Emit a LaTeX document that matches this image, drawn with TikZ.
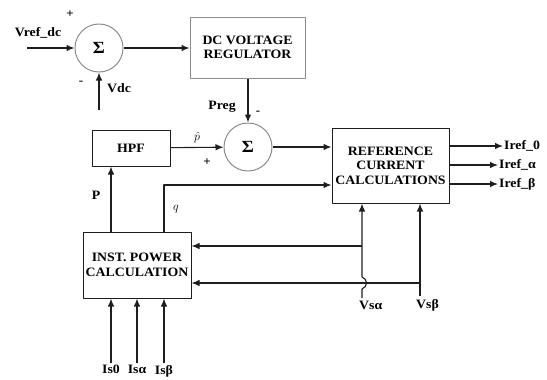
\documentclass[tikz,border=0pt]{standalone}
\usepackage{fontspec}
\setmainfont{Liberation Serif}[FakeStretch=1.08]
\usetikzlibrary{arrows.meta,positioning}
\definecolor{blockgray}{HTML}{8C8C8C}
\definecolor{wireblack}{HTML}{1E1E1E}

\begin{document}
\begin{tikzpicture}[
  x=1pt,
  y=-1pt,
  line join=round,
  font=\bfseries\fontsize{12.8}{14.5}\selectfont,
  block/.style={draw=#1,line width=1pt,fill=white,align=center,inner sep=0pt},
  sumnode/.style={circle,draw=blockgray,line width=1pt,minimum size=48pt,inner sep=0pt,font=\bfseries\fontsize{17}{18}\selectfont},
  wire/.style={draw=wireblack,line width=1.1pt},
  sig/.style={wire,-{Latex[length=8pt,width=6.5pt]}},
  lbl/.style={inner sep=1pt},
  sign/.style={inner sep=0pt,font=\bfseries\fontsize{12}{12}\selectfont}
]
  \useasboundingbox (0,0) rectangle (547,380);

  % Summing junctions and blocks.
  \node[sumnode] (sumdc) at (99,48) {Σ};
  \node[sumnode] (sump) at (248,147) {Σ};
  \node[block=blockgray,minimum width=115pt,minimum height=61pt] (dcreg) at (247.5,47.5) {DC VOLTAGE\\REGULATOR};
  \node[block=wireblack,minimum width=78pt,minimum height=36pt] (hpf) at (131,148) {HPF};
  \node[block=wireblack,minimum width=117pt,minimum height=75pt] (refcalc) at (390.5,165.5) {REFERENCE\\CURRENT\\CALCULATIONS};
  \node[block=wireblack,minimum width=108pt,minimum height=66pt] (inst) at (137,265) {INST. POWER\\CALCULATION};

  % Free ends of the signal lines.
  \coordinate (vrefin) at (27,48);
  \coordinate (vdcin) at (99,110);
  \coordinate (ptap) at (111,200);
  \coordinate (qtop) at (164,185);
  \coordinate (vsa) at (362,298);
  \coordinate (vsatap) at (362,246);
  \coordinate (hoplo) at (362,289);
  \coordinate (hophi) at (362,277);
  \coordinate (vsb) at (420,296);
  \coordinate (vsbtap) at (420,283);
  \coordinate (is0) at (111,363);
  \coordinate (isa) at (137,363);
  \coordinate (isb) at (164,363);

  % DC voltage loop.
  \draw[sig] (vrefin) -- (sumdc);
  \draw[sig] (vdcin) -- (sumdc);
  \draw[sig] (sumdc) -- (dcreg.west |- sumdc);
  \draw[sig] (dcreg.south -| sump) -- (sump);

  % Power path into the reference calculation.
  \draw[sig] (hpf) -- (sump);
  \draw[sig] (sump) -- (refcalc.west |- sump);
  \draw[sig] (inst.north -| ptap) -- (hpf.south -| ptap);
  \draw[sig] (inst.north -| qtop) -- (qtop) -- (refcalc.west |- qtop);

  % Supply voltages, with a hop where the lines cross.
  \draw[sig] (vsa) -- (hoplo) .. controls (368,287) and (368,279) .. (hophi) -- (refcalc.south -| vsa);
  \draw[sig] (vsatap) -- (inst.east |- vsatap);
  \draw[sig] (vsb) -- (refcalc.south -| vsb);
  \draw[sig] (vsbtap) -- (inst.east |- vsbtap);

  % Load currents.
  \foreach \p in {is0,isa,isb} {
    \draw[sig] (\p) -- (inst.south -| \p);
  }

  % Outputs.
  \node[lbl,anchor=west] (iref0) at (503,146) {Iref\_0};
  \node[lbl,anchor=west] (irefa) at (498,165) {Iref\_α};
  \node[lbl,anchor=west] (irefb) at (498,184) {Iref\_β};
  \foreach \p in {iref0,irefa,irefb} {
    \draw[sig] (refcalc.east |- \p) -- (\p);
  }

  % Signal labels.
  \node[lbl] (vreflbl) at (38,33) {Vref\_dc};
  \node[lbl] (vdclbl) at (119,88) {Vdc};
  \node[sign] (plusdc) at (70,14) {+};
  \node[sign] (minusdc) at (81,83) {-};
  \node[lbl] (preglbl) at (222,107) {Preg};
  \node[sign] (minusp) at (258,113) {-};
  \node[lbl] (phatlbl) at (197,137) {$\hat{p}$};
  \node[sign] (plusp) at (207,162) {+};
  \node[lbl] (plbl) at (96,195) {P};
  \node[lbl] (qlbl) at (176,209) {$q$};
  \node[lbl,anchor=west] (vsalbl) at (358,305) {Vsα};
  \node[lbl,anchor=west] (vsblbl) at (415,305) {Vsβ};
  \node[lbl,below=1pt of is0] (is0lbl) {Is0};
  \node[lbl,below=1pt of isa] (isalbl) {Isα};
  \node[lbl,below=1pt of isb] (isblbl) {Isβ};
\end{tikzpicture}
\end{document}
